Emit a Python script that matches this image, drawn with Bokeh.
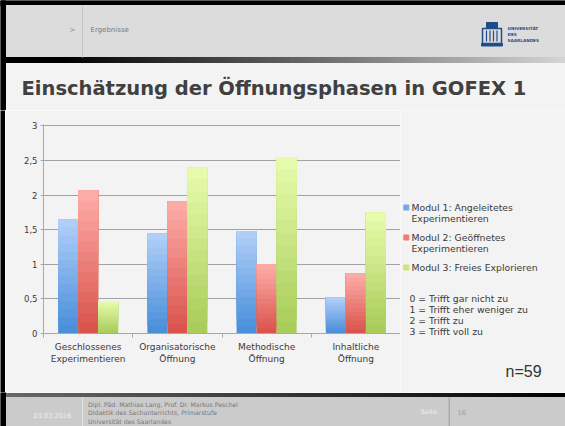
from bokeh.plotting import figure
from bokeh.layouts import column, row
from bokeh.models import Range1d, FixedTicker, ColumnDataSource
from bokeh.embed import file_html
from bokeh.resources import INLINE
from bokeh.core.properties import value
import numpy as np

# ---------------- data ----------------
categories = ["Geschlossenes\nExperimentieren", "Organisatorische\nÖffnung",
              "Methodische\nÖffnung", "Inhaltliche\nÖffnung"]
series_names = ["Modul 1: Angeleitetes\nExperimentieren",
                "Modul 2: Geöffnetes\nExperimentieren",
                "Modul 3: Freies Explorieren"]
modul1 = [1.65, 1.45, 1.48, 0.52]
modul2 = [2.07, 1.91, 1.00, 0.87]
modul3 = [0.47, 2.40, 2.55, 1.75]
y_ticks = [0, 0.5, 1, 1.5, 2, 2.5, 3]
y_tick_labels = ["0", "0,5", "1", "1,5", "2", "2,5", "3"]
scale_notes = ["0 = Trifft gar nicht zu", "1 = Trifft eher weniger zu",
               "2 = Trifft zu", "3 = Trifft voll zu"]
sample_note = "n=59"
title_text = "Einschätzung der Öffnungsphasen in GOFEX 1"
breadcrumb = "Ergebnisse"
footer_date = "03.03.2016"
footer_lines = ["Dipl. Päd. Mathias Lang, Prof. Dr. Markus Peschel",
                "Didaktik des Sachunterrichts, Primarstufe",
                "Universität des Saarlandes"]
page_label = "Seite"
page_number = "16"
logo_lines = ["UNIVERSITÄT", "DES", "SAARLANDES"]

# ---------------- style ----------------
CONTENT = "#f3f3f3"
HEADER = "#dcdcdc"
FOOTER = "#cbcbcb"
TXT = "#3a3a3a"
FONT = value("DejaVu Sans")
LOGO = "#1f4d8a"
grad = {  # (bottom colour, top colour)
    0: ("#4a8fda", "#afcef8"),
    1: ("#da544d", "#fdaba7"),
    2: ("#a9cc5a", "#e6fbab"),
}
legend_cols = ["#72a9ec", "#ef7c76", "#c7e47f"]

W, H = 565, 426


def hex2rgb(h):
    h = h.lstrip("#")
    return np.array([int(h[i:i + 2], 16) for i in (0, 2, 4)], dtype=float)


def lerp(c1, c2, t):
    a, b = hex2rgb(c1), hex2rgb(c2)
    c = np.clip(np.round(a + (b - a) * t), 0, 255).astype(int)
    return "#%02x%02x%02x" % tuple(c)


def deco_fig(w, h, x0, x1, y0, y1, bg=CONTENT):
    f = figure(width=w, height=h, x_range=Range1d(x0, x1), y_range=Range1d(y1, y0),
               x_axis_type=None, y_axis_type=None, output_backend="svg",
               toolbar_location=None, min_border=0, outline_line_color=None,
               background_fill_color=bg, border_fill_color=bg)
    f.grid.visible = False
    f.frame_align = False
    return f


# ---------------- header ----------------
hdr = deco_fig(W, 110, 0, W, 0, 110)
hdr.quad(left=[0], right=[W], top=[0], bottom=[5], color="#000000")
hdr.quad(left=[5], right=[W], top=[5], bottom=[57], color=HEADER)
nseg = 110
xs = np.linspace(5, W, nseg + 1)
cols = []
for xa_ in xs[:-1]:
    t = max(0.0, (xa_ - 60) / (W - 60))
    cols.append(lerp("#000000", "#d6d6d6", t))
hdr.quad(left=xs[:-1], right=xs[1:] + 0.3, top=57, bottom=62, color=cols)
hdr.quad(left=[0], right=[5], top=[0], bottom=[110], color="#000000")
hdr.segment(x0=[82], y0=[5], x1=[82], y1=[57], line_color="#c6c6c6", line_width=1)
hdr.text(x=[69], y=[29], text=[">"], text_font=FONT, text_font_size="7px",
         text_color="#8a8a8a", text_baseline="middle")
hdr.text(x=[90], y=[29], text=[breadcrumb], text_font=FONT, text_font_size="7px",
         text_color="#7a7a7a", text_baseline="middle")
# logo (simplified)
hdr.quad(left=[486], right=[497], top=[22], bottom=[28], color=LOGO)
hdr.quad(left=[482], right=[501], top=[28], bottom=[43], fill_color=None,
         line_color=LOGO, line_width=1.5)
hdr.segment(x0=[486, 489.5, 493, 496.5], y0=[30] * 4, x1=[486, 489.5, 493, 496.5],
            y1=[41] * 4, line_color=LOGO, line_width=1.2)
hdr.quad(left=[481], right=[502], top=[43], bottom=[45.5], color=LOGO)
hdr.text(x=[507] * 3, y=[28, 34, 40], text=logo_lines, text_font=FONT,
         text_font_size="4.2px", text_font_style="bold", text_color=LOGO,
         text_baseline="middle")
hdr.text(x=[21], y=[88], text=[title_text], text_font=FONT, text_font_size="19.5px",
         text_font_style="bold", text_color="#404040", text_baseline="middle")

# ---------------- left black border for middle band ----------------
edge = deco_fig(5, 282, 0, 5, 110, 392, bg="#000000")

# ---------------- chart ----------------
p = figure(width=395, height=282, x_range=Range1d(0, 4), y_range=Range1d(0, 3.02),
           output_backend="svg", toolbar_location=None,
           min_border_left=38, min_border_right=0, min_border_top=14,
           min_border_bottom=59, outline_line_color=None,
           background_fill_color=CONTENT, border_fill_color=CONTENT)
p.frame_align = False

series = [modul1, modul2, modul3]
offsets = [-0.224, 0.0, 0.224]
bar_w = 0.224
N = 14
for s, (vals, off) in enumerate(zip(series, offsets)):
    v = np.array(vals, dtype=float)
    x = np.arange(len(categories)) + 0.5 + off
    xx, bb, tt, cc = [], [], [], []
    for k in range(N):
        xx += list(x)
        bb += list(v * k / N)
        tt += list(v)
        cc += [lerp(grad[s][0], grad[s][1], k / (N - 1))] * len(v)
    src = ColumnDataSource(dict(x=xx, bottom=bb, top=tt, color=cc))
    p.vbar(x="x", width=bar_w, bottom="bottom", top="top", fill_color="color",
           line_color=None, source=src)

xa = p.xaxis[0]
xa.ticker = FixedTicker(ticks=[i + 0.5 for i in range(len(categories))],
                        minor_ticks=list(range(len(categories) + 1)))
xa.major_label_overrides = {i + 0.5: c for i, c in enumerate(categories)}
xa.major_tick_line_color = None
xa.major_tick_out = 0
xa.major_tick_in = 0
xa.minor_tick_out = 4
xa.minor_tick_in = 0
xa.minor_tick_line_color = "#a8a8a8"
xa.axis_line_color = "#a8a8a8"
xa.axis_line_width = 1.2
xa.major_label_standoff = 4
xa.major_label_text_font = "DejaVu Sans"
xa.major_label_text_font_size = "9px"
xa.major_label_text_color = TXT

ya = p.yaxis[0]
ya.ticker = FixedTicker(ticks=y_ticks)
ya.major_label_overrides = {t: l for t, l in zip(y_ticks, y_tick_labels)}
ya.major_tick_out = 3
ya.major_tick_in = 0
ya.minor_tick_line_color = None
ya.major_tick_line_color = "#a8a8a8"
ya.axis_line_color = "#a8a8a8"
ya.major_label_standoff = 3
ya.major_label_text_font = "DejaVu Sans"
ya.major_label_text_font_size = "8.5px"
ya.major_label_text_color = TXT

p.xgrid.visible = False
p.ygrid.ticker = FixedTicker(ticks=y_ticks)
p.ygrid.grid_line_color = "#a2a2a2"
p.ygrid.grid_line_width = 1

# ---------------- side (legend + notes) ----------------
side = deco_fig(W - 400, 282, 400, W, 110, 392)
leg_y = [207, 237, 267]
for i, (name, yy) in enumerate(zip(series_names, leg_y)):
    side.quad(left=[403.3], right=[408.3], top=[yy - 2.5], bottom=[yy + 2.5],
              color=legend_cols[i])
    lines = name.split("\n")
    side.text(x=[411] * len(lines), y=[yy + 10.5 * j for j in range(len(lines))],
              text=lines, text_font=FONT, text_font_size="9.3px",
              text_color=TXT, text_baseline="middle")
side.text(x=[409] * 4, y=[298, 309, 319.5, 330.5], text=scale_notes, text_font=FONT,
          text_font_size="9.3px", text_color=TXT, text_baseline="middle")
side.text(x=[505], y=[371], text=[sample_note], text_font=value("Liberation Sans"),
          text_font_size="16px", text_color="#333333", text_baseline="middle")

# ---------------- footer ----------------
ftr = deco_fig(W, H - 392, 0, W, 392, H)
xs2 = np.linspace(5, W, nseg + 1)
cols2 = [lerp("#686868", "#000000", (xa_ - 5) / (W - 5)) for xa_ in xs2[:-1]]
ftr.quad(left=xs2[:-1], right=xs2[1:] + 0.3, top=393, bottom=397, color=cols2)
ftr.quad(left=[5], right=[W], top=[397], bottom=[H], color=FOOTER)
ftr.quad(left=[0], right=[5], top=[392], bottom=[H], color="#000000")
ftr.segment(x0=[82, 448.7], y0=[397, 397], x1=[82, 448.7], y1=[H, H],
            line_color=["#e2e2e2", "#9a9a9a"], line_width=1)
ftr.text(x=[33], y=[414.5], text=[footer_date], text_font=FONT, text_font_size="6.6px",
         text_color="#eeeeee", text_baseline="middle")
ftr.text(x=[87.5] * 3, y=[404, 412.3, 420.5], text=footer_lines, text_font=FONT,
         text_font_size="6.2px", text_color="#777777", text_baseline="middle")
ftr.text(x=[420], y=[411.5], text=[page_label], text_font=FONT, text_font_size="6.6px",
         text_color="#f2f2f2", text_baseline="middle")
ftr.text(x=[457], y=[411.5], text=[page_number], text_font=FONT, text_font_size="6.6px",
         text_color="#999999", text_baseline="middle")

layout = column(hdr, row(edge, p, side), ftr)
open("out.html", "w").write(file_html(layout, INLINE))
